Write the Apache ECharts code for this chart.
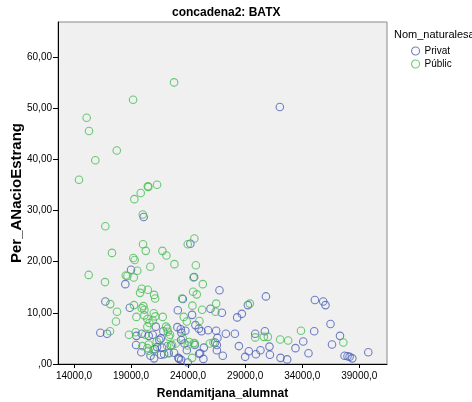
<!DOCTYPE html>
<html>
<head>
<meta charset="utf-8">
<script src="https://cdn.jsdelivr.net/npm/echarts@6/dist/echarts.min.js"></script>
<style>html,body{margin:0;padding:0;background:#fff}#c{width:472px;height:402px}</style>
</head>
<body>
<div id="c"></div>
<script>
var chartTitle = 'concadena2: BATX';
var xName = 'Rendamitjana_alumnat';
var yName = 'Per_ANacioEstrang';
var legendTitle = 'Nom_naturalesa';
var seriesNames = ['Privat', 'Públic'];
var xTicks = [14000, 19000, 24000, 29000, 34000, 39000];
var yTicks = [0, 10, 20, 30, 40, 50, 60];

var privat = [
[32040,50.2],[20110,28.7],[24200,23.5],[19000,18.4],[18500,15.6],[24530,17.0],[23540,12.7],[26750,14.4],
[16750,12.2],[18890,11.0],[23100,10.5],[24350,9.6],[25960,10.8],[21170,7.3],[21830,6.4],[23060,7.2],
[23360,6.8],[23760,6.5],[23410,6.1],[24640,7.6],[24940,6.9],[25750,6.6],[16310,6.1],[16900,5.9],
[19470,5.5],[19940,5.9],[20550,5.5],[20900,5.7],[21480,4.7],[19440,3.7],[19900,2.3],[21080,2.9],
[21720,3.2],[22310,2.1],[23680,4.0],[23890,2.7],[23150,1.2],[24970,2.0],[25380,3.2],[26370,4.2],
[26520,2.7],[26460,6.5],[20710,1.6],[21020,1.1],[30820,13.2],[29240,11.5],[26960,10.0],[28300,9.1],
[28710,9.8],[35110,12.5],[35840,12.2],[36040,11.5],[36480,7.8],[35050,6.4],[34090,4.4],[37310,5.5],
[36610,3.8],[37710,1.6],[37970,1.5],[38150,1.4],[38390,1.1],[39790,2.3],[33410,3.1],[34550,2.1],
[32100,1.2],[32680,0.9],[31130,3.4],[31170,1.8],[30340,2.7],[29940,1.9],[29320,2.5],[29000,1.4],
[30730,6.4],[29880,5.9],[28450,3.5],[27310,5.9],[28100,5.9],[26570,5.1],[27040,1.6],[25050,2.1],
[25340,1.0],[25170,6.4],[21630,1.8],[22770,2.2],[23210,1.0],[23390,0.8],[21280,3.3],[21900,1.9],
[24590,3.7],[23390,4.7],[23970,0.3],[21610,5.0],[26520,3.7],[22480,3.6]
];

var public_ = [
[22770,55.0],[19180,51.6],[15110,48.1],[15320,45.5],[17750,41.7],[15870,39.8],[14440,36.0],[20470,34.7],
[20520,34.6],[21280,35.0],[19850,33.4],[19290,32.2],[20030,29.2],[16750,26.9],[20050,23.4],[20290,22.1],
[17330,21.7],[21750,22.1],[22100,21.2],[19200,20.7],[19320,20.3],[23970,23.4],[24550,24.5],[22800,19.5],
[20690,19.0],[19550,18.2],[24680,19.3],[15290,17.4],[18540,17.3],[18680,17.2],[19240,16.9],[16720,16.0],
[24470,16.9],[25290,15.6],[19940,14.7],[19790,13.9],[20470,14.5],[21020,13.5],[21110,12.8],[23470,12.8],
[24440,14.1],[24760,13.6],[17180,11.7],[17770,10.2],[17680,8.3],[19260,11.5],[20080,11.3],[19940,10.9],
[20170,10.6],[20170,9.5],[19470,9.2],[21130,9.3],[21780,9.2],[20990,9.9],[23620,9.2],[24380,11.4],
[24990,8.4],[25230,10.6],[26460,11.8],[26400,10.2],[20610,8.0],[20430,7.3],[22070,7.3],[22180,6.9],
[22220,6.3],[17160,6.4],[18820,5.7],[20250,5.7],[22420,5.7],[22330,5.3],[21250,4.4],[20550,3.8],
[20430,3.1],[22920,4.0],[24500,4.1],[24350,1.2],[25900,4.0],[22270,2.2],[29410,11.8],[30640,5.3],
[30990,5.3],[29880,5.2],[32070,4.8],[32770,4.6],[33890,6.5],[37600,4.2],[23890,8.3],[23970,3.6],
[19410,6.2],[19990,3.5],[20550,2.6],[20960,2.7],[22160,3.5],[24590,4.0],[22600,3.7],[24090,4.3],
[23540,5.0],[26220,4.2],[20430,8.8],[20900,8.5]
];

var blue = '#4d60b8';
var green = '#48be54';
var fontFam = 'Arial, "Liberation Sans", sans-serif';

function fmtX(v){ return v.toFixed(1).replace('.', ','); }
function fmtY(v){ return v === 0 ? ',00' : v.toFixed(2).replace('.', ','); }

var chart = echarts.init(document.getElementById('c'), null, {renderer: 'canvas'});
chart.setOption({
  animation: false,
  textStyle: {fontFamily: fontFam},
  grid: {left: 58, right: 85, top: 22, bottom: 38, show: true, containLabel: false, outerBoundsMode: 'none',
         backgroundColor: '#f0f0f0', borderColor: '#8a8a8a', borderWidth: 1},
  graphic: [
    {type: 'text', left: 222 - 50, top: 7, style: {text: chartTitle, font: 'bold 12px ' + fontFam, fill: '#000', width: 100, align: 'center'}},
    {type: 'text', left: 394, top: 29, style: {text: legendTitle, font: '11px ' + fontFam, fill: '#000'}}
  ],
  legend: {
    orient: 'vertical', left: 411, top: 46, padding: 0, itemWidth: 8, itemHeight: 8, itemGap: 3,
    textStyle: {fontSize: 10, color: '#000'},
    data: [
      {name: seriesNames[0], icon: 'circle', itemStyle: {color: 'rgba(0,0,0,0)', borderColor: blue, borderWidth: 1.1}},
      {name: seriesNames[1], icon: 'circle', itemStyle: {color: 'rgba(0,0,0,0)', borderColor: green, borderWidth: 1.1}}
    ]
  },
  xAxis: {
    type: 'value', min: 12600, max: 41430,
    name: xName, nameLocation: 'middle', nameGap: 24, nameMoveOverlap: false,
    nameTextStyle: {fontSize: 12, fontWeight: 'bold', color: '#000'},
    axisLine: {show: true, onZero: false, lineStyle: {color: '#000', width: 1}},
    axisTick: {show: true, length: 4, lineStyle: {color: '#000'}, customValues: xTicks},
    axisLabel: {customValues: xTicks, formatter: fmtX, fontSize: 10, color: '#000', margin: 7},
    splitLine: {show: false}
  },
  yAxis: {
    type: 'value', min: 0, max: 66.8,
    name: yName, nameLocation: 'middle', nameGap: 34, nameMoveOverlap: false,
    nameTextStyle: {fontSize: 15, fontWeight: 'bold', color: '#000'},
    axisLine: {show: true, lineStyle: {color: '#000', width: 1}},
    axisTick: {show: true, length: 5, lineStyle: {color: '#000'}, customValues: yTicks},
    axisLabel: {customValues: yTicks, formatter: fmtY, fontSize: 10, color: '#000', margin: 6},
    splitLine: {show: false}
  },
  series: [
    {name: seriesNames[0], type: 'scatter', data: privat, symbol: 'circle', symbolSize: 7.5,
     itemStyle: {color: 'rgba(0,0,0,0)', borderColor: blue, borderWidth: 1.1}},
    {name: seriesNames[1], type: 'scatter', data: public_, symbol: 'circle', symbolSize: 7.5,
     itemStyle: {color: 'rgba(0,0,0,0)', borderColor: green, borderWidth: 1.1}}
  ]
});
</script>
</body>
</html>
